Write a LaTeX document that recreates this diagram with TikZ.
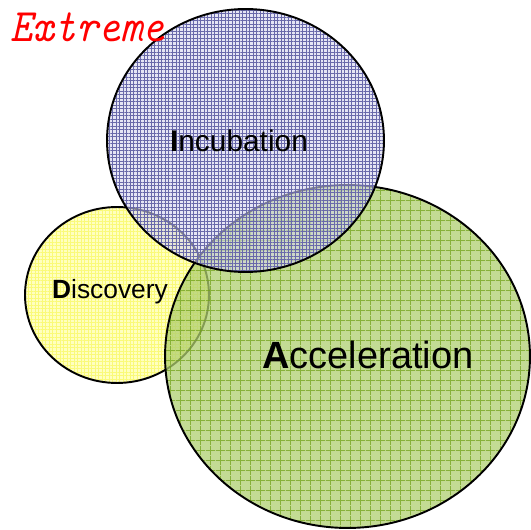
\documentclass[tikz,border=0pt]{standalone}
\usepackage{fontspec}
\setmainfont{Liberation Sans}
\usepackage{tikz}
\usetikzlibrary{shapes.geometric}
\usetikzlibrary{patterns.meta}
\usepackage{xcolor}
\definecolor{discfill}{RGB}{255,255,170}
\definecolor{discgrid}{RGB}{250,250,120}
\definecolor{incfill}{RGB}{212,212,236}
\definecolor{incgrid}{RGB}{105,105,170}
\definecolor{accfill}{RGB}{175,207,112}
\definecolor{accgrid}{RGB}{110,160,20}

\begin{document}
\begin{tikzpicture}[x=0.02cm, y=-0.02cm,
    phase/.style={draw, line width=1.1pt, ellipse, inner sep=0pt},
    phaselabel/.style={anchor=base, inner sep=0pt}]
    \useasboundingbox (0,0) rectangle (531,530);

    % the three phases
    \node[phase, minimum width=3.68cm, minimum height=3.52cm,
          preaction={fill=discfill, fill opacity=0.75},
          preaction={pattern={Hatch[angle=0, distance=2pt, line width=0.25pt]}, pattern color=discgrid, fill opacity=0.6}]
          (discovery) at (117,295) {};
    \node[phase, minimum width=7.3cm, minimum height=6.86cm,
          preaction={fill=accfill, fill opacity=0.75},
          preaction={pattern={Hatch[angle=0, distance=5.4pt, line width=0.45pt]}, pattern color=accgrid, fill opacity=0.7}]
          (acceleration) at (347.5,356.5) {};
    \node[phase, minimum width=5.54cm, minimum height=5.26cm,
          preaction={fill=incfill, fill opacity=0.6},
          preaction={pattern={Hatch[angle=0, distance=2pt, line width=0.2pt]}, pattern color=incgrid, fill opacity=0.6}]
          (incubation) at (245.5,140.5) {};

    % labels
    \node[phaselabel, font=\fontsize{17}{20}\selectfont] (inclabel) at (239,152) {\textbf{I}ncubation};
    \node[phaselabel, font=\fontsize{15}{18}\selectfont] (disclabel) at (110,298) {\textbf{D}iscovery};
    \node[phaselabel, font=\fontsize{21.6}{26}\selectfont] (acclabel) at (368,368) {\textbf{A}cceleration};

    \node[anchor=base west, inner sep=0pt, text=red, xscale=0.9,
          font=\ttfamily\itshape\fontsize{26.5}{30}\selectfont] (extreme) at (10,42) {Extreme};
\end{tikzpicture}
\end{document}
